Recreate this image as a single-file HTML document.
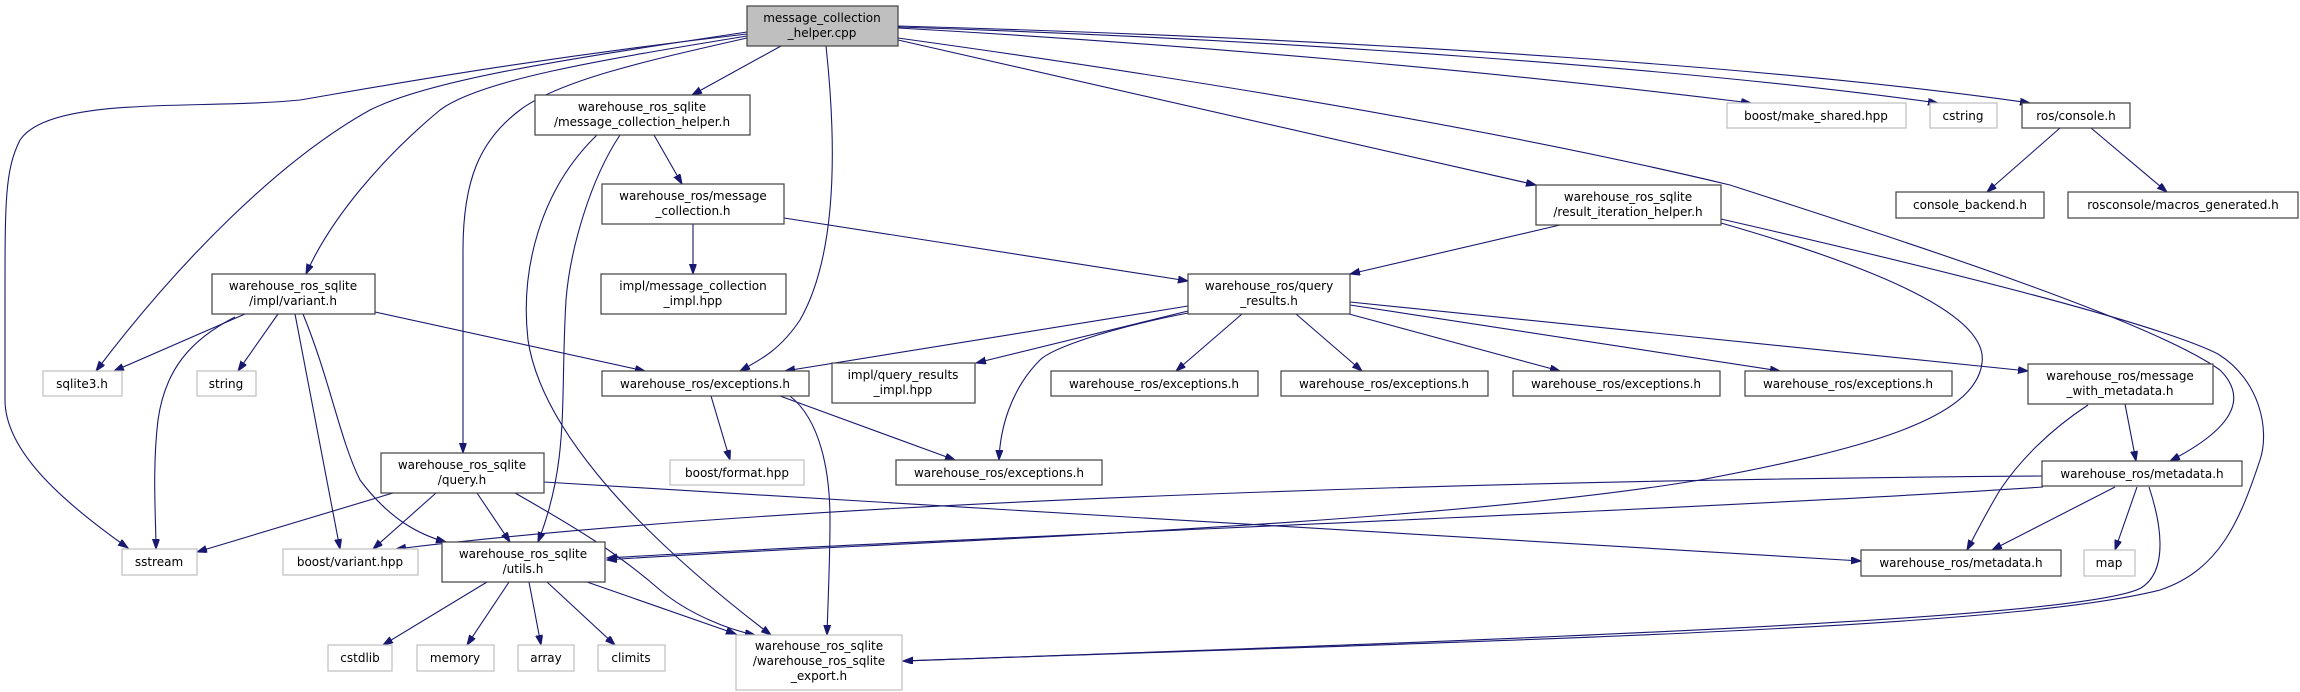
<!DOCTYPE html>
<html><head><meta charset="utf-8"><style>
html,body{margin:0;padding:0;background:#fff;width:2300px;height:692px;overflow:hidden}
text{font-family:"DejaVu Sans","Liberation Sans",sans-serif;font-size:12px;fill:#000;text-anchor:middle}
.n{fill:#fff;stroke:#404040;stroke-width:1.2}
.g{fill:#fff;stroke:#bfbfbf;stroke-width:1.2}
.e{fill:none;stroke:#191970;stroke-width:1.1}
</style></head><body>
<svg width="2300" height="692" xmlns="http://www.w3.org/2000/svg">
<defs><marker id="a" markerUnits="userSpaceOnUse" markerWidth="11" markerHeight="8" refX="10" refY="3.5" orient="auto"><path d="M0,0 L10,3.5 L0,7 z" fill="#191970" stroke="#191970"/></marker></defs>
<g marker-end="url(#a)">
<path class="e" d="M747,34 C520,60 360,90 300,100 C200,110 50,95 20,140 C5,170 5,200 5,300 L5,400 C5,450 60,500 128,548"/>
<path class="e" d="M747,32 C560,60 430,80 370,110 C280,160 180,260 96,371"/>
<path class="e" d="M747,36 C600,60 480,80 440,110 C380,160 330,220 306,274"/>
<path class="e" d="M747,38 C650,60 560,80 520,110 C480,140 463,180 463,250 L463,453"/>
<path class="e" d="M781,46 L692,95"/>
<path class="e" d="M826,46 C835,130 840,250 800,320 C780,350 760,360 740,371"/>
<path class="e" d="M898,40 L1536,185"/>
<path class="e" d="M898,28 C1200,45 1500,72 1751,103"/>
<path class="e" d="M898,27 C1300,40 1700,70 1938,103"/>
<path class="e" d="M898,26 C1400,40 1800,70 2030,103"/>
<path class="e" d="M898,38 C1200,80 1500,130 1730,185 C1900,240 2150,320 2220,370 C2250,400 2230,430 2170,461"/>
<path class="e" d="M654,135 L682,184"/>
<path class="e" d="M620,135 C590,180 570,250 566,300 C560,400 570,460 538,542"/>
<path class="e" d="M597,135 C540,190 520,270 528,340 C540,420 620,520 771,635"/>
<path class="e" d="M693,224 L693,274"/>
<path class="e" d="M784,218 L1188,281"/>
<path class="e" d="M1560,225 L1350,274"/>
<path class="e" d="M1721,219 C1900,260 2150,320 2218,354 C2260,380 2270,430 2260,460 C2240,520 2220,570 2160,590 C2000,630 1500,640 903,661"/>
<path class="e" d="M1721,223 C1850,260 1990,310 1982,363 C1975,420 1860,450 1700,480 C1400,530 800,545 607,560"/>
<path class="e" d="M1188,306 L785,371"/>
<path class="e" d="M1188,311 L976,363"/>
<path class="e" d="M1188,313 C1100,330 1050,350 1040,360 C1010,390 1000,430 999,460"/>
<path class="e" d="M1242,314 L1176,371"/>
<path class="e" d="M1296,314 L1362,371"/>
<path class="e" d="M1349,314 L1560,371"/>
<path class="e" d="M1350,305 L1780,371"/>
<path class="e" d="M1350,302 L2028,371"/>
<path class="e" d="M245,314 L114,371"/>
<path class="e" d="M235,317 C190,340 165,370 158,420 C152,470 156,520 156,549"/>
<path class="e" d="M278,314 L238,371"/>
<path class="e" d="M295,314 L340,549"/>
<path class="e" d="M303,314 C330,380 340,440 360,480 C390,520 420,535 446,542"/>
<path class="e" d="M375,312 L645,371"/>
<path class="e" d="M393,493 L197,552"/>
<path class="e" d="M436,493 L373,549"/>
<path class="e" d="M477,493 L510,542"/>
<path class="e" d="M515,493 C580,530 620,555 660,590 C690,615 730,630 755,635"/>
<path class="e" d="M544,482 L1861,561"/>
<path class="e" d="M487,582 L383,645"/>
<path class="e" d="M509,582 L467,645"/>
<path class="e" d="M529,582 L541,645"/>
<path class="e" d="M547,582 L615,645"/>
<path class="e" d="M587,582 L736,634"/>
<path class="e" d="M711,396 L730,460"/>
<path class="e" d="M780,396 L955,460"/>
<path class="e" d="M790,396 C820,420 830,470 830,520 C830,560 828,600 827,635"/>
<path class="e" d="M2125,404 L2136,461"/>
<path class="e" d="M2088,405 C2050,430 2020,460 2000,490 C1985,515 1975,535 1967,550"/>
<path class="e" d="M2115,487 L1992,550"/>
<path class="e" d="M2137,487 L2115,550"/>
<path class="e" d="M2042,476 C1500,480 800,500 396,549"/>
<path class="e" d="M2043,487 C1700,510 900,540 607,558"/>
<path class="e" d="M2149,487 C2160,520 2170,570 2141,588 C2080,620 1500,640 903,661"/>
<path class="e" d="M2060,128 L1987,192"/>
<path class="e" d="M2091,128 L2167,192"/>
</g>
<!-- nodes -->
<rect x="747" y="6" width="151" height="40" fill="#bfbfbf" stroke="#404040" stroke-width="1.2"/>
<text x="822" y="22">message_collection</text><text x="822" y="37">_helper.cpp</text>

<rect class="n" x="535" y="95" width="215" height="40"/>
<text x="642" y="111">warehouse_ros_sqlite</text><text x="642" y="126">/message_collection_helper.h</text>

<rect class="n" x="602" y="184" width="182" height="40"/>
<text x="693" y="200">warehouse_ros/message</text><text x="693" y="215">_collection.h</text>

<rect class="n" x="601" y="274" width="185" height="40"/>
<text x="693" y="290">impl/message_collection</text><text x="693" y="305">_impl.hpp</text>

<rect class="n" x="212" y="274" width="163" height="40"/>
<text x="293" y="290">warehouse_ros_sqlite</text><text x="293" y="305">/impl/variant.h</text>

<rect class="g" x="43" y="371" width="79" height="25"/><text x="82" y="388">sqlite3.h</text>
<rect class="g" x="197" y="371" width="59" height="25"/><text x="226" y="388">string</text>
<rect class="n" x="602" y="371" width="207" height="25"/><text x="705" y="388">warehouse_ros/exceptions.h</text>
<rect class="g" x="670" y="460" width="134" height="25"/><text x="737" y="477">boost/format.hpp</text>

<rect class="n" x="381" y="453" width="163" height="40"/>
<text x="462" y="469">warehouse_ros_sqlite</text><text x="462" y="484">/query.h</text>

<rect class="g" x="122" y="549" width="75" height="26"/><text x="159" y="566">sstream</text>
<rect class="g" x="283" y="549" width="135" height="26"/><text x="350" y="566">boost/variant.hpp</text>

<rect class="n" x="442" y="542" width="163" height="40"/>
<text x="523" y="558">warehouse_ros_sqlite</text><text x="523" y="573">/utils.h</text>

<rect class="g" x="328" y="645" width="64" height="26"/><text x="360" y="662">cstdlib</text>
<rect class="g" x="417" y="645" width="77" height="26"/><text x="455" y="662">memory</text>
<rect class="g" x="518" y="645" width="56" height="26"/><text x="546" y="662">array</text>
<rect class="g" x="598" y="645" width="67" height="26"/><text x="631" y="662">climits</text>

<rect class="g" x="736" y="635" width="166" height="55"/>
<text x="819" y="650">warehouse_ros_sqlite</text><text x="819" y="665">/warehouse_ros_sqlite</text><text x="819" y="680">_export.h</text>

<rect class="n" x="1188" y="274" width="162" height="40"/>
<text x="1269" y="290">warehouse_ros/query</text><text x="1269" y="305">_results.h</text>

<rect class="n" x="832" y="363" width="143" height="40"/>
<text x="903" y="379">impl/query_results</text><text x="903" y="394">_impl.hpp</text>

<rect class="n" x="1051" y="371" width="207" height="25"/><text x="1154" y="388">warehouse_ros/exceptions.h</text>
<rect class="n" x="1281" y="371" width="207" height="25"/><text x="1384" y="388">warehouse_ros/exceptions.h</text>
<rect class="n" x="1513" y="371" width="207" height="25"/><text x="1616" y="388">warehouse_ros/exceptions.h</text>
<rect class="n" x="1745" y="371" width="207" height="25"/><text x="1848" y="388">warehouse_ros/exceptions.h</text>
<rect class="n" x="896" y="460" width="206" height="25"/><text x="999" y="477">warehouse_ros/exceptions.h</text>

<rect class="n" x="1536" y="185" width="185" height="40"/>
<text x="1628" y="201">warehouse_ros_sqlite</text><text x="1628" y="216">/result_iteration_helper.h</text>

<rect class="g" x="1727" y="103" width="179" height="25"/><text x="1816" y="120">boost/make_shared.hpp</text>
<rect class="g" x="1930" y="103" width="67" height="25"/><text x="1963" y="120">cstring</text>
<rect class="n" x="2022" y="103" width="108" height="25"/><text x="2076" y="120">ros/console.h</text>
<rect class="n" x="1896" y="192" width="148" height="26"/><text x="1970" y="209">console_backend.h</text>
<rect class="n" x="2068" y="192" width="230" height="26"/><text x="2183" y="209">rosconsole/macros_generated.h</text>

<rect class="n" x="2028" y="364" width="185" height="40"/>
<text x="2120" y="380">warehouse_ros/message</text><text x="2120" y="395">_with_metadata.h</text>

<rect class="n" x="2042" y="461" width="200" height="25"/><text x="2142" y="478">warehouse_ros/metadata.h</text>
<rect class="n" x="1861" y="550" width="200" height="26"/><text x="1961" y="567">warehouse_ros/metadata.h</text>
<rect class="g" x="2084" y="550" width="51" height="26"/><text x="2109" y="567">map</text>
</svg>
</body></html>
